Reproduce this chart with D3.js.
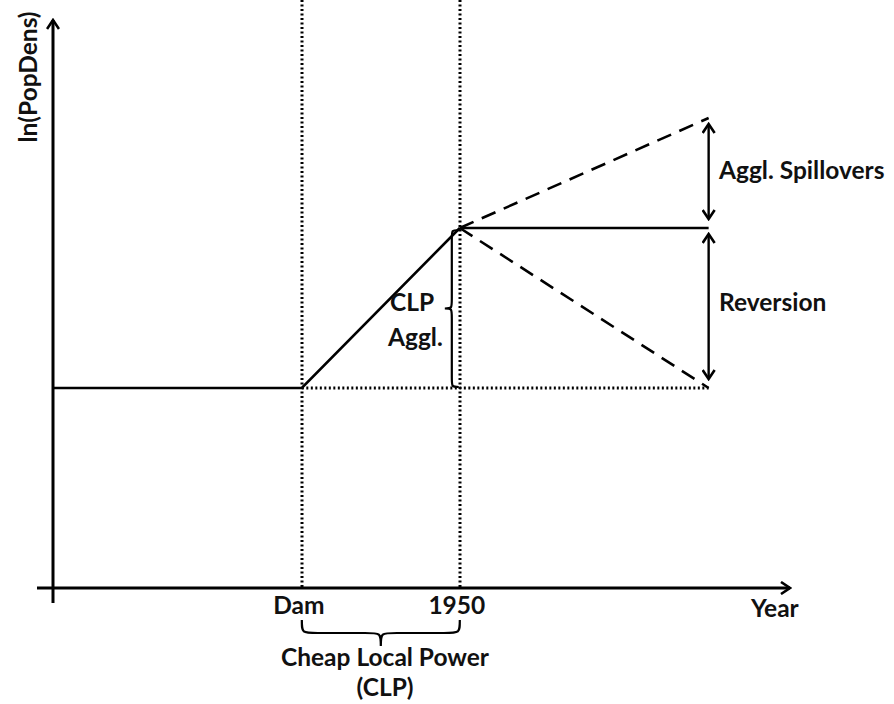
<!DOCTYPE html>
<html>
<head>
<meta charset="utf-8">
<script src="https://cdn.jsdelivr.net/npm/d3@7"></script>
<style>
  body { margin: 0; background: #fff; }
  text { font-family: Lato, "Open Sans", sans-serif; font-weight: bold; fill: #111; }
</style>
</head>
<body>
<div id="chart"></div>
<script>
// conceptual time / ln(PopDens) units
const xAxisExtent = [0, 9.33];
const yAxisExtent = [0, 14.2];
const timeMarks = [
  {label: "Dam", t: 3.15},
  {label: "1950", t: 5.15}
];
const tEnd = 8.3;
const baseLevel = 5;
const peakLevel = 9;
const spilloverLevel = 11.75;

const prePath = [[0, baseLevel], [3.15, baseLevel], [5.15, peakLevel]];
const flatPath = [[5.15, peakLevel], [tEnd, peakLevel]];
const upPath = [[5.15, peakLevel], [tEnd, spilloverLevel]];
const downPath = [[5.15, peakLevel], [tEnd, baseLevel]];
const basePath = [[3.15, baseLevel], [tEnd, baseLevel]];

const width = 894, height = 704;
const fs = 24.5;
const svg = d3.select("#chart").append("svg")
  .attr("width", width).attr("height", height);

const x = d3.scaleLinear().domain(xAxisExtent).range([53, 790]);
const y = d3.scaleLinear().domain(yAxisExtent).range([588, 20]);

const defs = svg.append("defs");
defs.append("marker")
  .attr("id", "arr")
  .attr("viewBox", "-12 -7 14 14")
  .attr("refX", 0).attr("refY", 0)
  .attr("markerWidth", 14).attr("markerHeight", 14)
  .attr("markerUnits", "userSpaceOnUse")
  .attr("orient", "auto-start-reverse")
  .append("path")
  .attr("d", "M-9,-6 L0,0 L-9,6")
  .attr("fill", "none").attr("stroke", "#000").attr("stroke-width", 2.6);

const line = d3.line().x(d => x(d[0])).y(d => y(d[1]));

// vertical dotted guides
svg.selectAll(".guide").data(timeMarks).join("line")
  .attr("class", "guide")
  .attr("x1", d => Math.round(x(d.t))).attr("x2", d => Math.round(x(d.t)))
  .attr("y1", 0).attr("y2", y(0))
  .attr("stroke", "#000").attr("stroke-width", 3)
  .attr("stroke-dasharray", "2,2.5");

// axes
svg.append("line")
  .attr("x1", x(0)).attr("x2", x(0))
  .attr("y1", 603).attr("y2", y(yAxisExtent[1]))
  .attr("stroke", "#000").attr("stroke-width", 3)
  .attr("marker-end", "url(#arr)");
svg.append("line")
  .attr("x1", 37).attr("x2", x(xAxisExtent[1]))
  .attr("y1", y(0)).attr("y2", y(0))
  .attr("stroke", "#000").attr("stroke-width", 3)
  .attr("marker-end", "url(#arr)");

// lines
svg.append("path").datum(basePath).attr("d", line)
  .attr("fill", "none").attr("stroke", "#000").attr("stroke-width", 3)
  .attr("stroke-dasharray", "2,2.5");
svg.append("path").datum(prePath).attr("d", line)
  .attr("fill", "none").attr("stroke", "#000").attr("stroke-width", 2.6);
svg.append("path").datum(flatPath).attr("d", line)
  .attr("fill", "none").attr("stroke", "#000").attr("stroke-width", 2.6);
[upPath, downPath].forEach(p => {
  svg.append("path").datum(p).attr("d", line)
    .attr("fill", "none").attr("stroke", "#000").attr("stroke-width", 2.6)
    .attr("stroke-dasharray", "15,9");
});

// double arrows
const arrowX = x(tEnd);
[[spilloverLevel, peakLevel], [peakLevel, baseLevel]].forEach(([a, b]) => {
  svg.append("line")
    .attr("x1", arrowX).attr("x2", arrowX)
    .attr("y1", y(a) + 6).attr("y2", y(b) - 9)
    .attr("stroke", "#000").attr("stroke-width", 2.4)
    .attr("marker-start", "url(#arr)").attr("marker-end", "url(#arr)");
});

// curly braces: vertical (tip left) and horizontal (tip down)
function braceV(xr, y0, y1, depth) {
  const ym = (y0 + y1) / 2, r = 10, xm = xr - depth / 2;
  return `M${xr},${y0} C${xm},${y0} ${xm},${y0} ${xm},${y0 + r} L${xm},${ym - r} C${xm},${ym} ${xm},${ym} ${xr - depth},${ym} C${xm},${ym} ${xm},${ym} ${xm},${ym + r} L${xm},${y1 - r} C${xm},${y1} ${xm},${y1} ${xr},${y1}`;
}
function braceH(x0, x1, yt, depth) {
  const xm = (x0 + x1) / 2, r = 16, ym = yt + depth / 2;
  return `M${x0},${yt} C${x0},${ym} ${x0},${ym} ${x0 + r},${ym} L${xm - r},${ym} C${xm},${ym} ${xm},${ym} ${xm},${yt + depth} C${xm},${ym} ${xm},${ym} ${xm + r},${ym} L${x1 - r},${ym} C${x1},${ym} ${x1},${ym} ${x1},${yt}`;
}

svg.append("path")
  .attr("d", braceV(x(5.15) - 1, y(peakLevel) + 2, y(baseLevel) - 1, 14))
  .attr("fill", "none").attr("stroke", "#000").attr("stroke-width", 2.2);
svg.append("path")
  .attr("d", braceH(x(timeMarks[0].t), x(timeMarks[1].t), 620, 26))
  .attr("fill", "none").attr("stroke", "#000").attr("stroke-width", 2.2);

// labels
svg.selectAll(".tl").data(timeMarks).join("text")
  .attr("class", "tl")
  .attr("x", d => x(d.t) - 3).attr("y", 614)
  .attr("text-anchor", "middle").attr("font-size", fs)
  .text(d => d.label);

svg.append("text").attr("x", 751).attr("y", 617).attr("font-size", fs).text("Year");
svg.append("text")
  .attr("transform", `translate(37,77) rotate(-90)`)
  .attr("text-anchor", "middle").attr("font-size", fs)
  .text("ln(PopDens)");

svg.append("text").attr("x", 385).attr("y", 666).attr("text-anchor", "middle")
  .attr("font-size", fs).text("Cheap Local Power");
svg.append("text").attr("x", 385).attr("y", 696).attr("text-anchor", "middle")
  .attr("font-size", fs).text("(CLP)");

svg.append("text").attr("x", 390).attr("y", 311).attr("font-size", fs).text("CLP");
svg.append("text").attr("x", 388).attr("y", 346).attr("font-size", fs).text("Aggl.");

svg.append("text").attr("x", 719).attr("y", 179).attr("font-size", fs).text("Aggl. Spillovers");
svg.append("text").attr("x", 719).attr("y", 311).attr("font-size", fs).text("Reversion");
</script>
</body>
</html>
